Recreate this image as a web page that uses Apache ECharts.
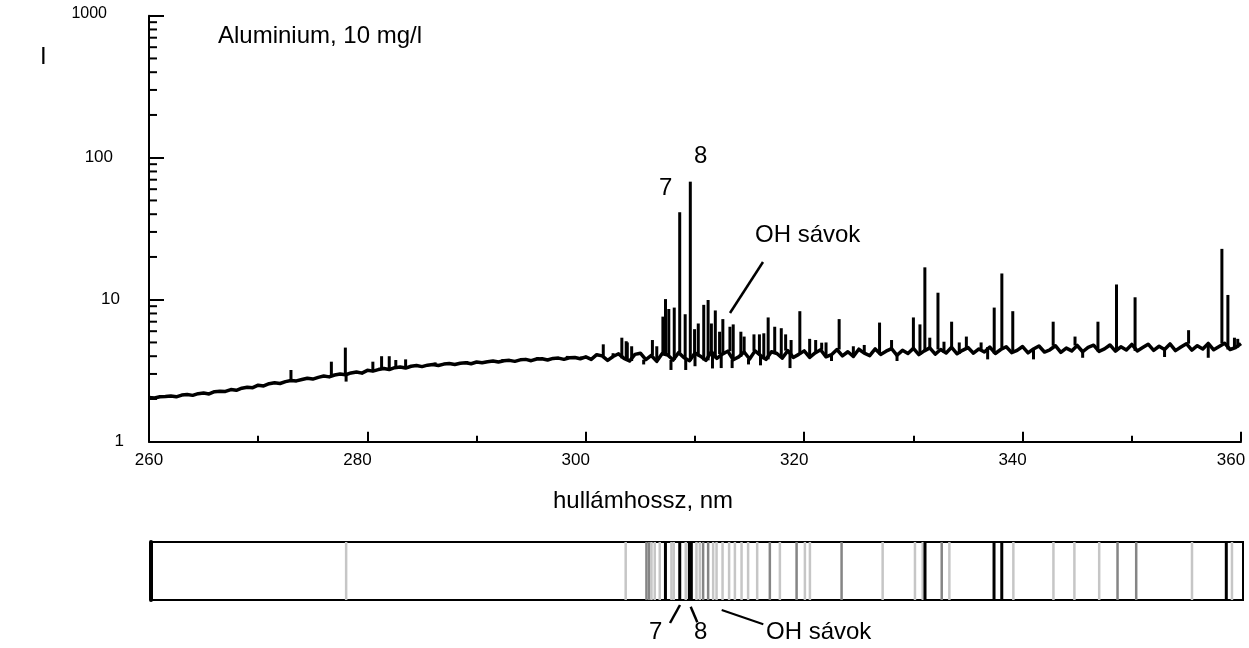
<!DOCTYPE html>
<html><head><meta charset="utf-8">
<script src="https://cdn.jsdelivr.net/npm/echarts@6/dist/echarts.min.js"></script>
<style>html,body{margin:0;padding:0;background:#fff}#c{width:1249px;height:648px}</style>
</head><body><div id="c"></div>
<script>
// wavelength grid: 260 nm, step 0.5 nm
const START = 260, STEP = 0.5;
const baseline = [
 2.05,2.03,2.07,2.08,2.1,2.07,2.13,2.15,2.12,2.18,2.2,2.17,2.25,2.27,2.26,2.33,2.3,2.38,2.42,2.4,
 2.5,2.47,2.56,2.6,2.57,2.65,2.7,2.68,2.74,2.8,2.76,2.84,2.9,2.86,2.95,3.0,2.96,3.05,3.1,3.04,
 3.18,3.14,3.22,3.28,3.22,3.32,3.36,3.3,3.4,3.44,3.38,3.46,3.5,3.44,3.52,3.55,3.5,3.57,3.6,3.54,
 3.64,3.6,3.66,3.7,3.64,3.72,3.74,3.68,3.77,3.8,3.72,3.82,3.84,3.76,3.86,3.88,3.8,3.9,3.92,3.84,
 3.96,3.8,4.1,4.02,3.74,3.98,4.16,3.86,3.7,4.12,4.2,3.78,4.05,3.68,4.18,4.08,3.76,4.24,3.9,3.72,
 4.22,4.0,3.74,4.3,3.86,4.14,4.34,3.78,3.96,4.28,3.82,4.36,4.06,3.8,4.3,4.18,3.88,4.38,3.92,4.12,
 4.36,3.92,4.22,4.44,3.96,4.1,4.46,4.02,4.3,3.98,4.48,4.2,4.04,4.5,4.12,4.34,4.52,4.06,4.4,4.18,
 4.54,4.1,4.36,4.58,4.14,4.46,4.22,4.62,4.16,4.4,4.6,4.2,4.5,4.28,4.64,4.18,4.46,4.66,4.24,4.4,
 4.68,4.22,4.5,4.72,4.28,4.44,4.74,4.26,4.56,4.36,4.76,4.3,4.62,4.78,4.32,4.5,4.8,4.34,4.66,4.42,
 4.84,4.36,4.6,4.86,4.4,4.7,4.46,4.88,4.38,4.64,4.9,4.42,4.74,4.5,4.92,4.44,4.68,4.94,4.46,4.6,
 4.9
];
// emission spikes and dips: [wavelength nm, intensity]
const peaks = [
 [273.0,3.2],[276.7,3.66],[277.98,4.6],[278.05,2.65],[280.5,3.66],[281.3,4.0],[282.0,4.0],[282.6,3.76],[283.5,3.8],
 [286.2,3.62],[289.1,3.7],[292.4,3.82],[295.6,3.95],[298.3,4.02],[299.6,3.98],
 [301.6,4.85],[302.5,4.2],[303.3,5.4],[303.7,5.1],[303.8,5.0],[304.2,4.7],[305.3,3.5],
 [306.1,5.2],[306.5,4.7],[307.06,7.6],[307.3,10.1],[307.6,8.6],[307.8,3.2],[308.1,8.8],[308.6,41.3],
 [309.1,7.9],[309.15,3.2],[309.57,67.8],[309.96,6.2],[310.0,3.4],[310.3,6.8],[310.8,9.2],[311.2,9.95],
 [311.5,6.8],[311.6,3.28],[311.86,8.4],[312.25,5.95],[312.4,3.3],[312.55,7.3],[313.2,6.45],[313.4,3.3],
 [313.5,6.7],[314.2,5.95],[314.5,5.5],[314.9,3.5],[315.4,5.7],[315.9,5.7],[316.0,3.45],[316.3,5.8],
 [316.7,7.5],[317.3,6.45],[317.9,6.3],[318.3,5.7],[318.7,3.3],[318.8,5.2],[319.6,8.3],[320.5,5.3],
 [321.05,5.2],[321.6,4.98],[322.0,5.0],[322.5,3.7],[323.2,7.3],[324.5,4.7],[325.5,4.8],[326.9,6.9],
 [328.0,5.2],[328.5,3.7],[330.0,7.5],[330.6,6.7],[331.05,16.9],[331.5,5.4],[332.25,11.2],[332.8,5.06],
 [333.5,7.0],[334.2,5.0],[334.85,5.5],[336.2,5.0],[336.8,3.8],[337.4,8.8],[338.1,15.3],[339.1,8.3],
 [341.0,3.8],[342.8,7.0],[344.8,5.5],[345.5,3.9],[346.9,7.0],[348.6,12.8],[350.3,10.4],[353.0,3.95],
 [355.2,6.1],[357.0,3.9],[358.25,22.8],[358.8,10.8],[359.4,5.4],[359.7,5.3]
];
// spectrum strip lines: [wavelength nm, shade class 0 light,1 grey,2 black,3 black broad]
const stripLines = [
 [277.87,0],[303.47,0],[305.37,1],[305.61,1],[305.83,0],[306.13,0],[306.59,0],[307.11,2],[307.66,0],
 [307.87,0],[308.42,2],[308.97,0],[309.39,3],[309.95,0],[310.26,0],[310.56,1],[311.02,1],[311.48,0],
 [311.79,0],[312.34,0],[312.94,0],[313.47,0],[314.08,0],[314.68,0],[315.51,0],[316.67,1],[317.59,0],
 [319.12,1],[319.88,0],[320.34,0],[323.24,1],[327.0,0],[329.96,0],[330.67,0],[330.88,2],[332.41,1],
 [333.11,0],[337.2,2],[337.91,2],[338.97,0],[342.64,0],[344.56,0],[346.83,0],[348.51,1],[350.22,1],
 [355.33,0],[358.47,2],[358.99,0]
];
const minorY = [2,3,4,5,6,7,8,9,20,30,40,50,60,70,80,90,200,300,400,500,600,700,800,900];

const FONT = '"Liberation Sans", Arial, Helvetica, sans-serif';
const chart = echarts.init(document.getElementById('c'));
const lineData = baseline.map((v, i) => [START + i * STEP, v]);
function baseAt(wl) {
  const i = Math.max(0, Math.min(baseline.length - 1, Math.round((wl - START) / STEP)));
  return baseline[i];
}
const peakData = peaks.map(p => [p[0], p[1], baseAt(p[0])]);
const stripColors = ['#c6c6c6', '#858585', '#000000', '#000000'];
const stripWidths = [2.5, 2.5, 3, 5];

const option = {
  animation: false,
  backgroundColor: '#fff',
  grid: [
    { left: 149, right: 8, top: 15.7, bottom: 206.3 },
    { left: 151, right: 6, top: 542, height: 58, show: true, borderColor: '#000', borderWidth: 2, backgroundColor: 'transparent' }
  ],
  xAxis: [
    {
      type: 'value', gridIndex: 0, min: 260, max: 360, interval: 20,
      axisLine: { onZero: false, lineStyle: { color: '#000', width: 2 } },
      axisTick: { inside: true, length: 10, lineStyle: { color: '#000', width: 2 } },
      minorTick: { show: true, splitNumber: 2, length: 6, lineStyle: { color: '#000', width: 2 } },
      splitLine: { show: false },
      axisLabel: {
        margin: 10, color: '#000', fontSize: 17, fontFamily: FONT,
        showMinLabel: true, showMaxLabel: true,
        formatter: v => v === 260 ? '{a|260}' : '{b|' + v + '}',
        rich: {
          a: { fontSize: 17, fontFamily: FONT, color: '#000' },
          b: { fontSize: 17, fontFamily: FONT, color: '#000', padding: [0, 20, 0, 0] }
        }
      }
    },
    { type: 'value', gridIndex: 1, min: 260, max: 360, show: false }
  ],
  yAxis: [
    {
      type: 'log', logBase: 10, gridIndex: 0, min: 1, max: 1000,
      axisLine: { show: true, lineStyle: { color: '#000', width: 2 } },
      axisTick: { show: true, inside: true, length: 15, lineStyle: { color: '#000', width: 2 } },
      splitLine: { show: false },
      axisLabel: {
        margin: 25, color: '#000', fontSize: 17, fontFamily: FONT,
        formatter: v => '{r' + v + '|' + v + '}',
        rich: {
          r1: { fontSize: 17, fontFamily: FONT, color: '#000' },
          r10: { fontSize: 17, fontFamily: FONT, color: '#000', padding: [0, 4, 0, 0] },
          r100: { fontSize: 17, fontFamily: FONT, color: '#000', padding: [0, 11, 0, 0] },
          r1000: { fontSize: 16, fontFamily: FONT, color: '#000', padding: [0, 17, 4, 0] }
        }
      }
    },
    {
      type: 'value', gridIndex: 1, min: 0, max: 1,
      axisLine: { show: true, lineStyle: { color: '#000', width: 4 } },
      axisTick: { show: false }, axisLabel: { show: false }, splitLine: { show: false }
    }
  ],
  series: [
    {
      type: 'line', xAxisIndex: 0, yAxisIndex: 0, data: lineData,
      showSymbol: false, symbol: 'none', z: 3,
      lineStyle: { color: '#000', width: 3.5, join: 'round' }
    },
    {
      type: 'custom', xAxisIndex: 0, yAxisIndex: 0, data: peakData, z: 4,
      encode: { x: 0, y: 1 },
      renderItem: (params, api) => {
        const x = api.value(0), top = api.value(1), base = api.value(2);
        const a = api.coord([x, base]), b = api.coord([x, top]);
        return { type: 'line', shape: { x1: a[0], y1: a[1], x2: b[0], y2: b[1] },
                 style: { stroke: '#000', lineWidth: 3, lineCap: 'butt' } };
      }
    },
    {
      type: 'custom', xAxisIndex: 0, yAxisIndex: 0, data: minorY.map(v => [260, v]), z: 5, clip: false,
      encode: { x: 0, y: 1 },
      renderItem: (params, api) => {
        const p = api.coord([api.value(0), api.value(1)]);
        return { type: 'line', shape: { x1: p[0], y1: p[1], x2: p[0] + 8, y2: p[1] },
                 style: { stroke: '#000', lineWidth: 2 } };
      }
    },
    {
      type: 'custom', xAxisIndex: 1, yAxisIndex: 1, data: stripLines, z: 2, clip: false,
      encode: { x: 0 },
      renderItem: (params, api) => {
        const wl = api.value(0), lvl = api.value(1);
        const t = api.coord([wl, 1]), b = api.coord([wl, 0]);
        return { type: 'line', shape: { x1: t[0], y1: t[1], x2: b[0], y2: b[1] },
                 style: { stroke: stripColors[lvl], lineWidth: stripWidths[lvl] } };
      }
    }
  ],
  graphic: [
    { type: 'text', left: 40, top: 45, style: { text: 'I', font: '24px ' + FONT, fill: '#000' } },
    { type: 'text', left: 218, top: 24, style: { text: 'Aluminium, 10 mg/l', font: '24px ' + FONT, fill: '#000' } },
    { type: 'text', left: 553, top: 489, style: { text: 'hullámhossz, nm', font: '24px ' + FONT, fill: '#000' } },
    { type: 'text', left: 659, top: 176, style: { text: '7', font: '24px ' + FONT, fill: '#000' } },
    { type: 'text', left: 694, top: 144, style: { text: '8', font: '24px ' + FONT, fill: '#000' } },
    { type: 'text', left: 755, top: 223, style: { text: 'OH sávok', font: '24px ' + FONT, fill: '#000' } },
    { type: 'line', shape: { x1: 763, y1: 262, x2: 730, y2: 313 }, style: { stroke: '#000', lineWidth: 2.5 } },
    { type: 'text', left: 649, top: 620, style: { text: '7', font: '24px ' + FONT, fill: '#000' } },
    { type: 'text', left: 694, top: 620, style: { text: '8', font: '24px ' + FONT, fill: '#000' } },
    { type: 'text', left: 766, top: 620, style: { text: 'OH sávok', font: '24px ' + FONT, fill: '#000' } },
    { type: 'line', shape: { x1: 680, y1: 605, x2: 670, y2: 623 }, style: { stroke: '#000', lineWidth: 2.5 } },
    { type: 'line', shape: { x1: 690.7, y1: 606.7, x2: 697.3, y2: 622.3 }, style: { stroke: '#000', lineWidth: 2.5 } },
    { type: 'line', shape: { x1: 721.7, y1: 610, x2: 763.3, y2: 624.3 }, style: { stroke: '#000', lineWidth: 2 } }
  ]
};
chart.setOption(option);
</script>
</body></html>
